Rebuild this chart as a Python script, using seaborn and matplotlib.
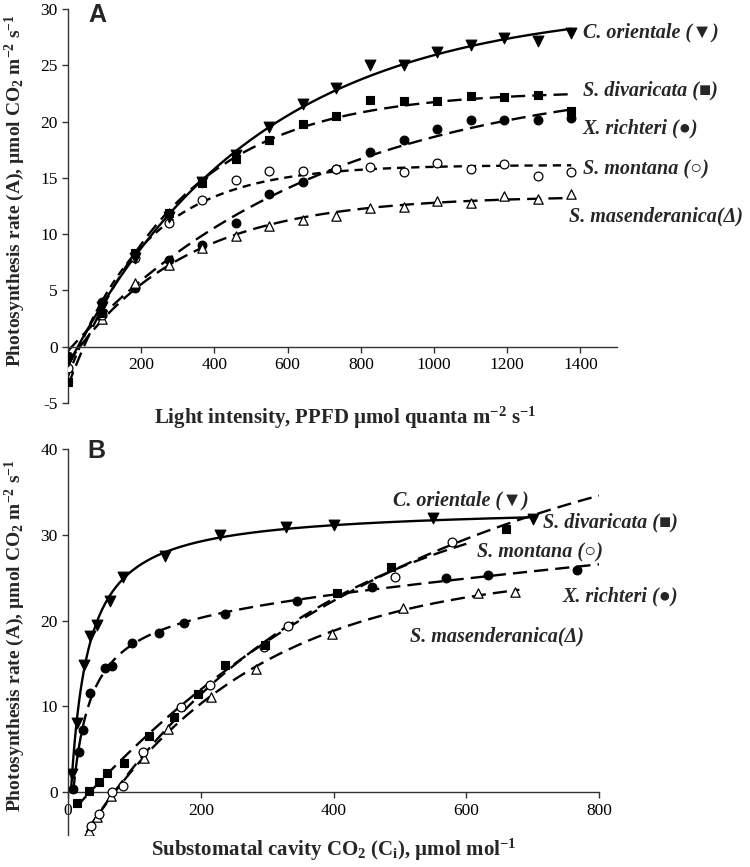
import numpy as np
import pandas as pd
import seaborn as sns
import matplotlib
matplotlib.use("Agg")
import matplotlib.pyplot as plt

# --- data ---
# Panel A: light response
ppfd = [0, 92, 183, 275, 367, 458, 550, 642, 733, 825, 917, 1008, 1100, 1192, 1283, 1375]
a_orientale = [-1.3, 3.5, 7.9, 11.5, 14.6, 17.0, 19.5, 21.6, 23.0, 25.0, 25.0, 26.2, 26.8, 27.4, 27.2, 27.9]
a_divaricata = [-3.1, 3.0, 8.3, 11.9, 14.5, 16.7, 18.4, 19.8, 20.5, 21.9, 21.8, 21.8, 22.3, 22.2, 22.4, 20.9]
a_richteri = [-0.8, 4.0, 5.2, 7.7, 9.05, 11.0, 13.6, 14.6, 15.8, 17.3, 18.4, 19.3, 20.1, 20.1, 20.1, 20.3]
a_montana = [-1.9, 2.8, 7.9, 11.0, 13.0, 14.8, 15.6, 15.6, 15.8, 16.0, 15.5, 16.3, 15.8, 16.2, 15.2, 15.5]
a_masend = [-1.8, 2.5, 5.65, 7.3, 8.75, 9.8, 10.7, 11.3, 11.6, 12.3, 12.45, 12.9, 12.8, 13.4, 13.1, 13.6]

# Panel B: CO2 response
ci_orientale = [6, 14, 24, 33, 44, 63, 83, 146, 229, 328, 401, 550, 701]
b_orientale = [2.1, 8.1, 14.8, 18.2, 19.5, 22.3, 25.1, 27.5, 30.0, 30.9, 31.1, 31.9, 31.8]
ci_richteri = [8, 16, 23, 33, 56, 66, 97, 137, 174, 236, 345, 458, 570, 633, 767]
b_richteri = [0.4, 4.7, 7.3, 11.5, 14.5, 14.7, 17.4, 18.5, 19.7, 20.8, 22.3, 23.9, 25.0, 25.3, 25.9]
ci_divaricata = [13, 32, 46, 58, 85, 122, 160, 196, 236, 297, 405, 487, 660]
b_divaricata = [-1.3, 0.15, 1.2, 2.2, 3.4, 6.6, 8.8, 11.4, 14.8, 17.1, 23.2, 26.2, 30.7]
ci_montana = [35, 47, 66, 83, 113, 170, 214, 296, 332, 492, 578]
b_montana = [-4.0, -2.5, 0.0, 0.7, 4.7, 9.9, 12.5, 16.9, 19.4, 25.1, 29.2]
ci_masend = [31, 44, 64, 115, 150, 215, 283, 397, 505, 617, 673]
b_masend = [-4.5, -2.9, -0.4, 4.0, 7.4, 11.1, 14.4, 18.4, 21.5, 23.2, 23.3]


def fit_exp(x, y, xs):
    # A = a + b*exp(-k x), grid over k
    x = np.asarray(x, float); y = np.asarray(y, float)
    best = None
    for k in np.geomspace(1e-4, 5e-2, 600):
        M = np.column_stack([np.ones_like(x), np.exp(-k * x)])
        coef = np.linalg.lstsq(M, y, rcond=None)[0]
        err = np.sum((M @ coef - y) ** 2)
        if best is None or err < best[0]:
            best = (err, k, coef)
    _, k, coef = best
    return coef[0] + coef[1] * np.exp(-k * xs)


def fit_hyp(x, y, xs):
    # A = a + b*x/(K + x) + c*x, grid over K
    x = np.asarray(x, float); y = np.asarray(y, float)
    best = None
    for K in np.geomspace(1, 5000, 600):
        M = np.column_stack([np.ones_like(x), x / (K + x), x])
        coef = np.linalg.lstsq(M, y, rcond=None)[0]
        err = np.sum((M @ coef - y) ** 2)
        if best is None or err < best[0]:
            best = (err, K, coef)
    _, K, coef = best
    return coef[0] + coef[1] * xs / (K + xs) + coef[2] * xs


sns.set_style("ticks")
plt.rcParams["font.family"] = ["Liberation Serif", "DejaVu Serif"]
plt.rcParams["mathtext.fontset"] = "custom"
plt.rcParams["mathtext.rm"] = "Liberation Serif:bold"
plt.rcParams["mathtext.bf"] = "Liberation Serif:bold"
plt.rcParams["mathtext.default"] = "rm"
plt.rcParams["axes.unicode_minus"] = False

fig = plt.figure(figsize=(7.5, 8.67), dpi=100)
axA = fig.add_axes([0.0907, 0.5352, 0.732, 0.4544])
axB = fig.add_axes([0.0907, 0.0369, 0.708, 0.4452])

long_dash = (0, (6, 3))
short_dash = (0, (3.5, 2.5))

filled = dict(color="black", edgecolor="black", linewidth=0.8, zorder=3)
hollow = dict(color="white", edgecolor="black", linewidth=0.9, zorder=3)
size = {"v": 60, "s": 40, "o": 40, "^": 45}


def draw(ax, x, y, marker, fit, xr, ls, mstyle):
    xs = np.linspace(xr[0], xr[1], 300)
    curve = pd.DataFrame({"x": xs, "y": fit(x, y, xs)})
    sns.lineplot(data=curve, x="x", y="y", ax=ax, color="black", lw=1.7,
                 linestyle=ls, sort=False, zorder=2)
    pts = pd.DataFrame({"x": x, "y": y})
    sns.scatterplot(data=pts, x="x", y="y", ax=ax, marker=marker, s=size[marker], **mstyle)


# Panel A
draw(axA, ppfd, a_richteri, "o", fit_exp, (0, 1375), long_dash, filled)
draw(axA, ppfd, a_masend, "^", fit_exp, (0, 1375), long_dash, hollow)
draw(axA, ppfd, a_montana, "o", fit_exp, (0, 1375), short_dash, hollow)
draw(axA, ppfd, a_divaricata, "s", fit_exp, (0, 1375), long_dash, filled)
draw(axA, ppfd, a_orientale, "v", fit_exp, (0, 1375), "-", filled)

# Panel B
draw(axB, ci_masend, b_masend, "^", fit_exp, (28, 680), long_dash, hollow)
draw(axB, ci_montana, b_montana, "o", fit_exp, (33, 600), long_dash, hollow)
draw(axB, ci_divaricata, b_divaricata, "s", fit_exp, (13, 800), long_dash, filled)
draw(axB, ci_richteri, b_richteri, "o", fit_hyp, (8, 800), long_dash, filled)
draw(axB, ci_orientale, b_orientale, "v", fit_hyp, (5, 701), "-", filled)

for ax in (axA, axB):
    ax.spines["top"].set_visible(False)
    ax.spines["right"].set_visible(False)
    ax.spines["bottom"].set_position(("data", 0))
    for sp in ("left", "bottom"):
        ax.spines[sp].set_linewidth(1.0)
        ax.spines[sp].set_color("#333333")
    ax.tick_params(direction="out", length=4, width=1, labelsize=12.5, colors="#333333",
                   labelcolor="black")

axA.set_xlim(0, 1500)
axA.set_ylim(-5, 30)
axA.set_xticks([200, 400, 600, 800, 1000, 1200, 1400])
axA.set_yticks(np.arange(-5, 31, 5))

axB.set_xlim(0, 800)
axB.set_ylim(-5, 40)
axB.set_xticks([0, 200, 400, 600, 800])
axB.set_yticks([0, 10, 20, 30, 40])

ylab = r"Photosynthesis rate (A), µmol CO$_2$ m$^{-2}$ s$^{-1}$"
axA.set_ylabel(ylab, fontsize=14, fontweight="bold")
axB.set_ylabel(ylab, fontsize=14, fontweight="bold")
axA.yaxis.set_label_coords(-0.075, 0.538)
axB.yaxis.set_label_coords(-0.077, 0.516)

axA.set_xlabel(r"Light intensity, PPFD µmol quanta m$^{-2}$ s$^{-1}$", fontsize=15, fontweight="bold")
axB.set_xlabel(r"Substomatal cavity CO$_2$ (C$_\mathrm{i}$), µmol mol$^{-1}$", fontsize=15, fontweight="bold")
axA.xaxis.set_label_coords(0.505, -0.005)
axB.xaxis.set_label_coords(0.5, -0.005)
axA.xaxis.label.set_va("top")
axB.xaxis.label.set_va("top")

lab = dict(fontsize=14.5, fontweight="bold", fontstyle="italic", va="center", ha="left")
axA.text(1406, 27.9, "C. orientale (▼)", **lab)
axA.text(1406, 22.8, "S. divaricata (■)", **lab)
axA.text(1406, 19.4, "X. richteri (●)", **lab)
axA.text(1406, 15.7, "S. montana (○)", **lab)
axA.text(1370, 11.6, "S. masenderanica(Δ)", **lab)

axB.text(489, 34.0, "C. orientale (▼)", **lab)
axB.text(715, 31.4, "S. divaricata (■)", **lab)
axB.text(616, 27.9, "S. montana (○)", **lab)
axB.text(745, 22.8, "X. richteri (●)", **lab)
axB.text(515, 18.1, "S. masenderanica(Δ)", **lab)

fig.text(88 / 750, 1 - 3 / 867, "A", fontsize=18, fontweight="bold", family="Liberation Sans", va="top")
fig.text(87 / 750, 1 - 439 / 867, "B", fontsize=18, fontweight="bold", family="Liberation Sans", va="top")

fig.savefig("out.png", dpi=100)
